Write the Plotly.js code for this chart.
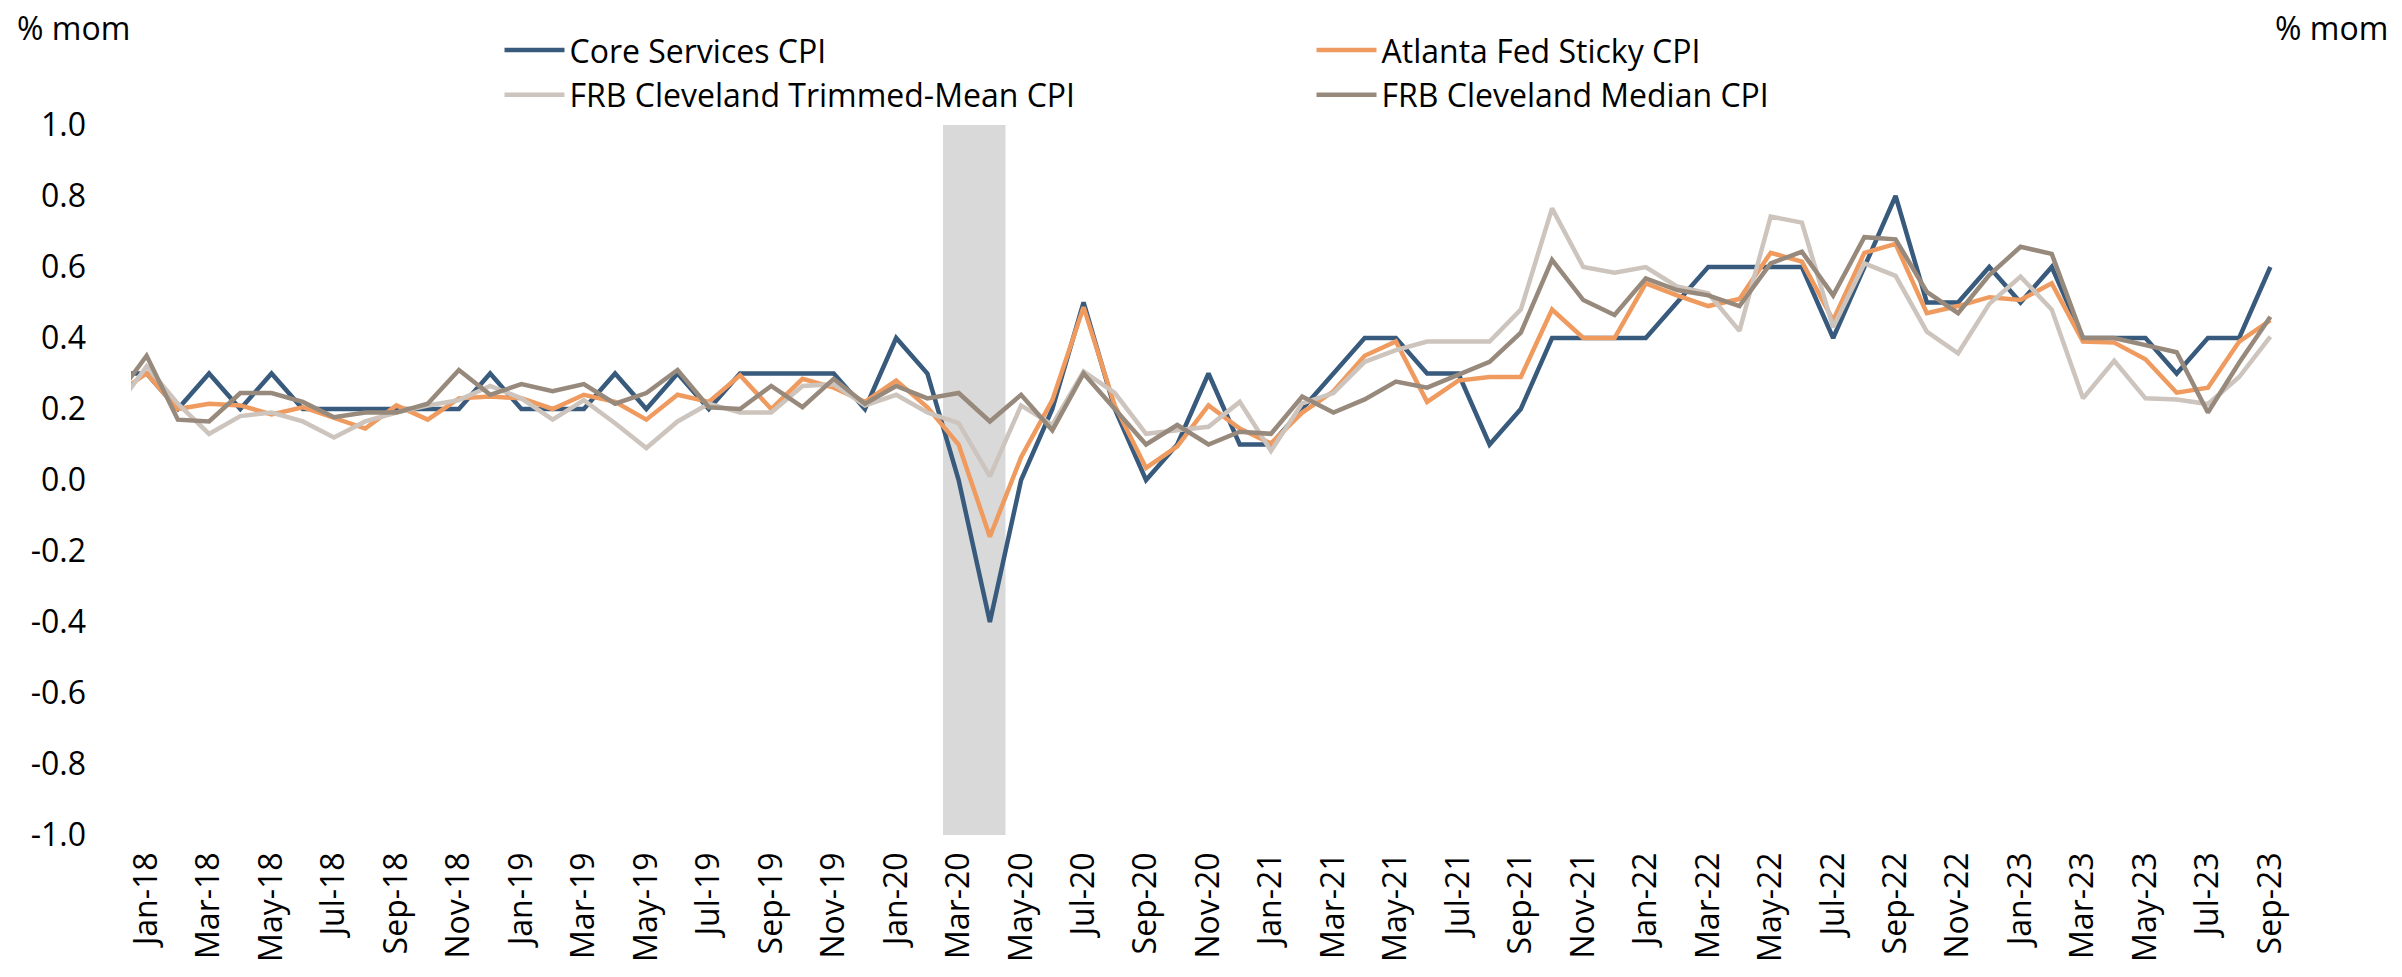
<!DOCTYPE html>
<html>
<head>
<meta charset="utf-8">
<script src="https://cdn.plot.ly/plotly-3.0.1.min.js"></script>
<style>
html,body{margin:0;padding:0;background:#ffffff;}
#chart{width:2402px;height:977px;}
</style>
</head>
<body>
<div id="chart"></div>
<script>
// Month categories (Dec-17 is only partly visible at the left edge)
const months = [
  'Dec-17',
  'Jan-18','Feb-18','Mar-18','Apr-18','May-18','Jun-18','Jul-18','Aug-18','Sep-18','Oct-18','Nov-18','Dec-18',
  'Jan-19','Feb-19','Mar-19','Apr-19','May-19','Jun-19','Jul-19','Aug-19','Sep-19','Oct-19','Nov-19','Dec-19',
  'Jan-20','Feb-20','Mar-20','Apr-20','May-20','Jun-20','Jul-20','Aug-20','Sep-20','Oct-20','Nov-20','Dec-20',
  'Jan-21','Feb-21','Mar-21','Apr-21','May-21','Jun-21','Jul-21','Aug-21','Sep-21','Oct-21','Nov-21','Dec-21',
  'Jan-22','Feb-22','Mar-22','Apr-22','May-22','Jun-22','Jul-22','Aug-22','Sep-22','Oct-22','Nov-22','Dec-22',
  'Jan-23','Feb-23','Mar-23','Apr-23','May-23','Jun-23','Jul-23','Aug-23','Sep-23'
];

const coreServices = [
  0.30,
  0.30,0.20,0.30,0.20,0.30,0.20,0.20,0.20,0.20,0.20,0.20,0.30,
  0.20,0.20,0.20,0.30,0.20,0.30,0.20,0.30,0.30,0.30,0.30,0.20,
  0.40,0.30,0.00,-0.40,0.00,0.20,0.50,0.20,0.00,0.10,0.30,0.10,
  0.10,0.20,0.30,0.40,0.40,0.30,0.30,0.10,0.20,0.40,0.40,0.40,
  0.40,0.50,0.60,0.60,0.60,0.60,0.40,0.60,0.80,0.50,0.50,0.60,
  0.50,0.60,0.40,0.40,0.40,0.30,0.40,0.40,0.60
];

const stickyCPI = [
  0.24,
  0.30,0.20,0.215,0.21,0.185,0.205,0.175,0.145,0.21,0.17,0.23,0.235,
  0.23,0.20,0.24,0.22,0.17,0.24,0.22,0.295,0.20,0.285,0.26,0.22,
  0.28,0.205,0.10,-0.16,0.064,0.225,0.487,0.21,0.034,0.095,0.21,0.145,
  0.103,0.19,0.25,0.35,0.39,0.22,0.28,0.29,0.29,0.48,0.40,0.40,
  0.554,0.52,0.49,0.51,0.64,0.615,0.45,0.64,0.665,0.47,0.49,0.515,
  0.507,0.554,0.39,0.387,0.34,0.246,0.26,0.39,0.45
];

const trimmedMean = [
  0.20,
  0.32,0.215,0.13,0.18,0.19,0.165,0.12,0.165,0.19,0.21,0.225,0.265,
  0.23,0.17,0.225,0.16,0.09,0.165,0.215,0.19,0.19,0.265,0.27,0.21,
  0.24,0.19,0.16,0.01,0.21,0.155,0.306,0.245,0.13,0.14,0.15,0.22,
  0.082,0.216,0.245,0.333,0.366,0.39,0.39,0.39,0.48,0.765,0.60,0.584,
  0.60,0.545,0.526,0.42,0.742,0.725,0.43,0.61,0.575,0.418,0.357,0.496,
  0.573,0.48,0.23,0.336,0.23,0.227,0.214,0.29,0.404
];

const medianCPI = [
  0.23,
  0.35,0.17,0.165,0.245,0.245,0.22,0.177,0.19,0.19,0.215,0.31,0.24,
  0.27,0.25,0.27,0.215,0.245,0.31,0.205,0.20,0.265,0.205,0.285,0.215,
  0.265,0.23,0.245,0.165,0.24,0.14,0.30,0.20,0.10,0.155,0.10,0.136,
  0.13,0.235,0.19,0.227,0.277,0.26,0.296,0.333,0.415,0.62,0.507,0.465,
  0.568,0.535,0.52,0.49,0.61,0.643,0.52,0.684,0.678,0.53,0.47,0.577,
  0.657,0.637,0.40,0.40,0.38,0.36,0.19,0.33,0.46
];

const seriesNames = ['Core Services CPI','Atlanta Fed Sticky CPI','FRB Cleveland Trimmed-Mean CPI','FRB Cleveland Median CPI'];
const seriesColors = ['#385A7C','#EF9B5F','#CCC4BD','#978A7C'];

const xTickLabels = [
  'Jan-18','Mar-18','May-18','Jul-18','Sep-18','Nov-18',
  'Jan-19','Mar-19','May-19','Jul-19','Sep-19','Nov-19',
  'Jan-20','Mar-20','May-20','Jul-20','Sep-20','Nov-20',
  'Jan-21','Mar-21','May-21','Jul-21','Sep-21','Nov-21',
  'Jan-22','Mar-22','May-22','Jul-22','Sep-22','Nov-22',
  'Jan-23','Mar-23','May-23','Jul-23','Sep-23'
];

const yTickVals = [-1.0,-0.8,-0.6,-0.4,-0.2,0.0,0.2,0.4,0.6,0.8,1.0];
const yTickText = ['-1.0','-0.8','-0.6','-0.4','-0.2','0.0','0.2','0.4','0.6','0.8','1.0'];

const shadedMonths = ['Mar-20','Apr-20'];
const yUnit = '% mom';

const FONT = 'Open Sans, Noto Sans, DejaVu Sans, sans-serif';
const allSeries = [coreServices, stickyCPI, trimmedMean, medianCPI];

const traces = allSeries.map(function(vals, k){
  return {
    type: 'scatter',
    mode: 'lines',
    x: months,
    y: vals,
    name: seriesNames[k],
    line: {color: seriesColors[k], width: 4.5, shape: 'linear'},
    hoverinfo: 'x+y+name'
  };
});

const xRange = [0.5, months.length - 0.5];
const boundaryTicks = xTickLabels.map(function(m){ return months.indexOf(m) - 0.5; });

const layout = {
  width: 2402,
  height: 977,
  paper_bgcolor: '#ffffff',
  plot_bgcolor: '#ffffff',
  margin: {l: 131, r: 116, t: 125, b: 142, pad: 0, autoexpand: false},
  font: {family: FONT, size: 32, color: '#000000'},
  showlegend: true,
  legend: {
    orientation: 'h',
    x: 0.171, xanchor: 'left',
    y: 1.144, yanchor: 'top',
    entrywidth: 737, entrywidthmode: 'pixels',
    font: {family: FONT, size: 32, color: '#000000'},
    bgcolor: 'rgba(0,0,0,0)',
    itemwidth: 60,
    tracegroupgap: 0
  },
  xaxis: {
    type: 'category',
    categoryorder: 'array',
    categoryarray: months,
    range: xRange,
    tickmode: 'array',
    tickvals: xTickLabels,
    ticktext: xTickLabels,
    tickangle: -90,
    ticks: '',
    showline: false,
    showgrid: false,
    zeroline: false,
    ticklabelstandoff: 10,
    tickfont: {family: FONT, size: 32, color: '#000000'},
    fixedrange: true
  },
  xaxis2: {
    overlaying: 'x',
    anchor: 'free',
    position: 0.5,
    side: 'bottom',
    type: 'linear',
    range: xRange,
    tickmode: 'array',
    tickvals: boundaryTicks,
    showticklabels: false,
    ticks: 'outside',
    ticklen: 12,
    tickwidth: 2,
    tickcolor: '#D9D9D9',
    showline: true,
    linecolor: '#D9D9D9',
    linewidth: 2,
    showgrid: false,
    zeroline: false,
    fixedrange: true
  },
  yaxis: {
    range: [-1, 1],
    tickmode: 'array',
    tickvals: yTickVals,
    ticktext: yTickText,
    ticks: '',
    showline: false,
    showgrid: false,
    zeroline: false,
    ticklabelstandoff: 44,
    tickfont: {family: FONT, size: 32, color: '#000000'},
    fixedrange: true
  },
  yaxis2: {
    overlaying: 'y',
    side: 'right',
    anchor: 'x',
    range: [-1, 1],
    tickmode: 'array',
    tickvals: yTickVals,
    ticktext: yTickText,
    ticks: '',
    showline: false,
    showgrid: false,
    zeroline: false,
    ticklabelstandoff: 38,
    tickfont: {family: FONT, size: 32, color: '#000000'},
    fixedrange: true
  },
  shapes: [{
    type: 'rect',
    xref: 'x', yref: 'y',
    x0: months.indexOf(shadedMonths[0]) - 0.5,
    x1: months.indexOf(shadedMonths[shadedMonths.length - 1]) + 0.5,
    y0: -1, y1: 1,
    fillcolor: '#D9D9D9',
    line: {width: 0},
    layer: 'below'
  }],
  annotations: [
    {text: yUnit, xref: 'paper', yref: 'paper', x: -0.0537, xanchor: 'left', y: 1.137, yanchor: 'middle',
     showarrow: false, font: {family: FONT, size: 32, color: '#000000'}},
    {text: yUnit, xref: 'paper', yref: 'paper', x: 1.0484, xanchor: 'right', y: 1.137, yanchor: 'middle',
     showarrow: false, font: {family: FONT, size: 32, color: '#000000'}}
  ]
};

Plotly.newPlot('chart', traces, layout, {displayModeBar: false, staticPlot: true});
</script>
</body>
</html>
